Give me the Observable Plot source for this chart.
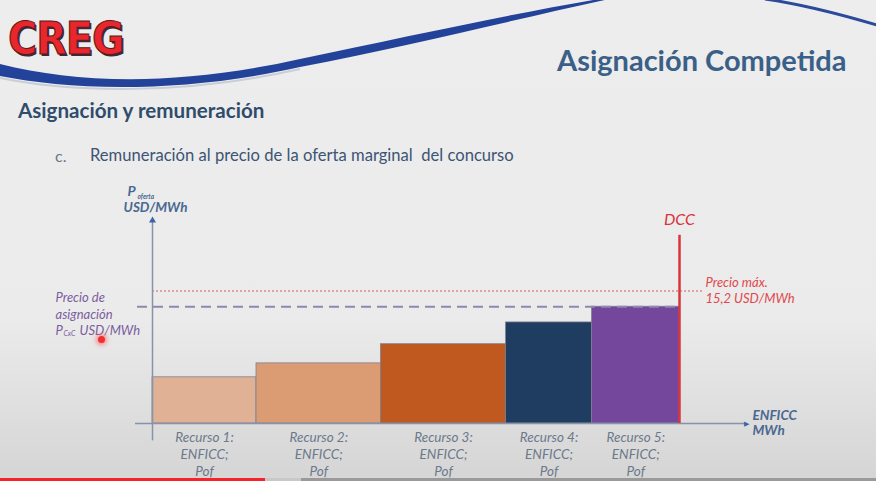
<!DOCTYPE html>
<html>
<head>
<meta charset="utf-8">
<script src="https://cdn.jsdelivr.net/npm/d3@7"></script>
<script src="https://cdn.jsdelivr.net/npm/@observablehq/plot@0.6"></script>
<style>
  html, body { margin: 0; padding: 0; }
  #slide { position: relative; width: 876px; height: 481px; overflow: hidden;
    background: linear-gradient(to bottom, #ededed 0%, #ebebeb 66%, #e2e2e2 80%, #d6d6d6 98%);
    font-family: Lato, "Open Sans", sans-serif; }
  .abs { position: absolute; white-space: nowrap; }
  #logo { left: 8px; top: 17px; font-family: "DejaVu Sans"; font-weight: bold; font-size: 44px; color: #e8262b;
    transform: scaleX(0.9); transform-origin: left top; letter-spacing: -1px;
    -webkit-text-stroke: 1px #5a1a20; text-shadow: 2px 2px 0 #3a2a3a; line-height: 1; }
  #title { left: 557px; top: 45px; font-size: 29px; font-weight: bold; color: #3a6088; line-height: 1; }
  #sub { left: 18px; top: 100px; font-size: 20.6px; font-weight: bold; color: #2f4c6c; line-height: 1; }
  #bulletc { left: 55px; top: 148px; font-size: 16px; color: #6a7888; line-height: 1; }
  #bullet { left: 90px; top: 147px; font-size: 16.6px; color: #3d5474; line-height: 1; }
  #chart { position: absolute; left: 0; top: 180px; }
  #pointer { left: 98px; top: 336px; width: 7px; height: 7px; border-radius: 50%; background: #f03030;
    box-shadow: 0 0 4px 2px rgba(255,80,80,0.6); }
  #bar1 { left: 0; top: 478px; width: 265px; height: 3px; background: #f4242a; }
  #bar2 { left: 265px; top: 478px; width: 36px; height: 3px; background: #c8c8c8; }
  #bar3 { left: 301px; top: 478px; width: 575px; height: 3px; background: #9a9a9a; }
</style>
</head>
<body>
<div id="slide">
  <svg class="abs" style="left:0;top:0" width="876" height="120">
    <path d="M0,64 C80,84 180,86 300,59 C410,36 510,14 605,-2 L614,-2 C520,18 420,44 300,67 C180,94 70,90 0,76 Z" fill="#23429a"/>
    <path d="M0,78 C70,92 180,96 300,69" fill="none" stroke="#c9cdd6" stroke-width="2"/>
    <path d="M765,-1 C800,4 840,14 880,26" fill="none" stroke="#2b4a9c" stroke-width="3"/>
  </svg>
  <div id="logo" class="abs">CREG</div>
  <div id="title" class="abs">Asignación Competida</div>
  <div id="sub" class="abs">Asignación y remuneración</div>
  <div id="bulletc" class="abs">c.</div>
  <div id="bullet" class="abs">Remuneración al precio de la oferta marginal&nbsp; del concurso</div>
  <div id="chart"></div>
  <div id="pointer" class="abs"></div>
  <div id="bar1" class="abs"></div>
  <div id="bar2" class="abs"></div>
  <div id="bar3" class="abs"></div>
</div>
<script>
// ---- data ----
const recursos = ["Recurso 1:", "Recurso 2:", "Recurso 3:", "Recurso 4:", "Recurso 5:"];
const enficc = [1040, 1245, 1250, 860, 875];      // MWh (schematic widths)
const pof = [5.3, 6.9, 9.1, 11.6, 13.4];           // USD/MWh (schematic heights)
const precioMax = 15.2;
const etiquetaLinea2 = "ENFICC;";
const etiquetaLinea3 = "Pof";

// ---- styles ----
const colores = ["#e0b195", "#db9c73", "#bf5920", "#1f3c61", "#74469c"];

// ---- derived table ----
let acc = 0;
const tabla = recursos.map((r, i) => {
  const x1 = acc; acc += enficc[i];
  return {recurso: r, x1, x2: acc, xm: (x1 + acc) / 2, pof: pof[i], color: colores[i],
          label: r + "\n" + etiquetaLinea2 + "\n" + etiquetaLinea3};
});
const dcc = acc;
const precioAsig = pof[pof.length - 1];
const xMax = dcc + 660;
const yMax = 23.3;
const yDcc = 21.6;

const purple = "#7b5d9e", red = "#d8343a", axisCol = "#8494aa", labCol = "#4a6890";

const chart = Plot.plot({
  width: 876, height: 301,
  marginTop: 40, marginBottom: 58, marginLeft: 152, marginRight: 131,
  x: {domain: [0, xMax], axis: null},
  y: {domain: [0, yMax], axis: null},
  style: {background: "transparent", overflow: "visible", fontFamily: "Lato, sans-serif"},
  marks: [
    // dotted max price
    Plot.ruleY([precioMax], {x1: 0, x2: dcc + 230, stroke: "#de8a8a", strokeWidth: 1.5, strokeDasharray: "2,2"}),
    // bars
    Plot.rectY(tabla, {x1: "x1", x2: "x2", y1: 0, y2: "pof", fill: "color", stroke: "#7f7f90", strokeWidth: 0.8}),
    // dashed assignment price
    Plot.ruleY([precioAsig], {x1: -150, x2: dcc, stroke: "#8e89aa", strokeWidth: 2, strokeDasharray: "10,6"}),
    // axes
    Plot.ruleY([0], {x1: -170, x2: xMax, stroke: axisCol, strokeWidth: 1.5}),
    Plot.ruleX([0], {y1: -2, y2: yMax, stroke: axisCol, strokeWidth: 1.5}),
    Plot.dot([{x: 0, y: yMax}], {x: "x", y: "y", symbol: "triangle", r: 2.6, fill: "#3d64a8", stroke: null}),
    Plot.text([{x: xMax, y: 0}], {x: "x", y: "y", text: () => "▶", fontSize: 7, fill: "#3d64a8", dx: 1}),
    // DCC
    Plot.ruleX([dcc], {y1: 0, y2: yDcc, stroke: red, strokeWidth: 2.5}),
    Plot.text([{x: dcc, y: yDcc}], {x: "x", y: "y", text: () => "DCC", dy: -15, fontSize: 16, fontStyle: "italic", fill: red}),
    // precio max label
    Plot.text([{x: dcc, y: precioMax}], {x: "x", y: "y", text: () => "Precio máx.\n15,2 USD/MWh", dx: 26, dy: -1,
      textAnchor: "start", lineAnchor: "middle", lineHeight: 1.2, fontSize: 13, fontStyle: "italic", fill: "#e0484b"}),
    // category labels
    Plot.text(tabla, {x: "xm", y: 0, text: "label", dy: 6, lineAnchor: "top", lineHeight: 1.27,
      fontSize: 13.5, fontStyle: "italic", fill: "#6c798b"}),
    // x axis label
    Plot.text([{x: xMax, y: 0}], {x: "x", y: "y", text: () => "ENFICC\nMWh", dx: 7, dy: -1, textAnchor: "start",
      lineAnchor: "middle", lineHeight: 1.15, fontSize: 13.5, fontWeight: "bold", fontStyle: "italic", fill: labCol}),
    // y axis label
    Plot.text([{x: 0, y: yMax}], {x: "x", y: "y", text: () => "P", dx: -25, dy: -29, textAnchor: "start",
      fontSize: 14, fontWeight: "bold", fontStyle: "italic", fill: labCol}),
    Plot.text([{x: 0, y: yMax}], {x: "x", y: "y", text: () => "oferta", dx: -15, dy: -24, textAnchor: "start",
      fontSize: 6.5, fontWeight: "bold", fontStyle: "italic", fill: labCol}),
    Plot.text([{x: 0, y: yMax}], {x: "x", y: "y", text: () => "USD/MWh", dx: 3, dy: -13,
      fontSize: 13.5, fontWeight: "bold", fontStyle: "italic", fill: labCol}),
    // assignment price label
    Plot.text([{x: 0, y: precioAsig}], {x: "x", y: "y", text: () => "Precio de\nasignación", dx: -97, dy: -2,
      textAnchor: "start", lineAnchor: "middle", lineHeight: 1.35, fontSize: 13, fontStyle: "italic", fill: purple}),
    Plot.text([{x: 0, y: precioAsig}], {x: "x", y: "y", text: () => "P", dx: -97, dy: 24,
      textAnchor: "start", fontSize: 13, fontStyle: "italic", fill: purple}),
    Plot.text([{x: 0, y: precioAsig}], {x: "x", y: "y", text: () => "CxC", dx: -89, dy: 27,
      textAnchor: "start", fontSize: 7, fontStyle: "italic", fill: purple}),
    Plot.text([{x: 0, y: precioAsig}], {x: "x", y: "y", text: () => "USD/MWh", dx: -73, dy: 24,
      textAnchor: "start", fontSize: 13, fontStyle: "italic", fill: purple})
  ]
});
document.getElementById("chart").appendChild(chart);
</script>
</body>
</html>
